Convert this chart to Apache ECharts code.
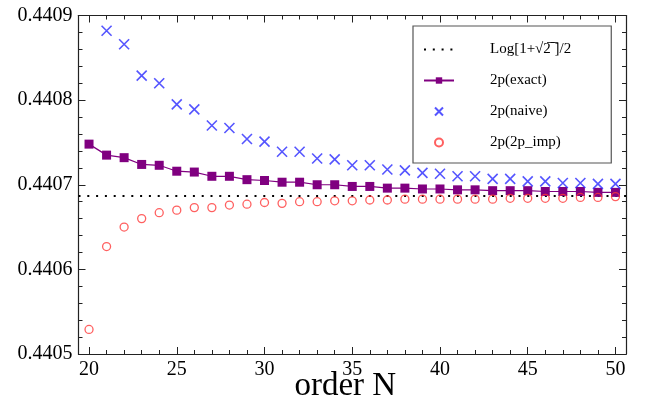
<!DOCTYPE html>
<html>
<head>
<meta charset="utf-8">
<script src="https://cdn.jsdelivr.net/npm/echarts@6/dist/echarts.min.js"></script>
<style>html,body{margin:0;padding:0;background:#fff;}#c{width:649px;height:407px;}</style>
</head>
<body>
<div id="c"></div>
<script>
// ---- data ----
const orders = [20,21,22,23,24,25,26,27,28,29,30,31,32,33,34,35,36,37,38,39,40,41,42,43,44,45,46,47,48,49,50];
const exactVals = [0.440748,0.440735,0.440732,0.440724,0.440723,0.440716,0.440715,0.440710,0.440710,0.440706,
  0.440705,0.440703,0.440703,0.440700,0.440700,0.440698,0.440698,0.440696,0.440696,0.440695,
  0.440695,0.440694,0.440694,0.440693,0.440693,0.440693,0.440692,0.440692,0.440692,0.440691,0.440691];
const naiveVals = [null,0.440882,0.440866,0.440829,0.440820,0.440795,0.440789,0.440770,0.440767,0.440754,
  0.440751,0.440739,0.440739,0.440731,0.440730,0.440723,0.440723,0.440718,0.440717,0.440714,
  0.440713,0.440710,0.440710,0.440707,0.440707,0.440704,0.440704,0.440702,0.440702,0.440701,0.440701];
const impVals = [0.440529,0.440627,0.440650,0.440660,0.440667,0.440670,0.440673,0.440673,0.440676,0.440677,
  0.440679,0.440678,0.440680,0.440680,0.440681,0.440681,0.440682,0.440682,0.440683,0.440683,
  0.440683,0.440683,0.440683,0.440683,0.440684,0.440684,0.440684,0.440684,0.440685,0.440685,0.440686];
const limitVal = Math.log(1 + Math.SQRT2) / 2;
const xRange = [19.4, 50.6];
const yRange = [0.4405, 0.4409];
const xMajorTicks = [20,25,30,35,40,45,50];
const xMinorTicks = [20,21,22,23,24,25,26,27,28,29,30,31,32,33,34,35,36,37,38,39,40,41,42,43,44,45,46,47,48,49,50];
const seriesNames = ['Log[1+\u221A2\u0305 \u0305]/2', '2p(exact)', '2p(naive)', '2p(2p_imp)'];
const xTitle = 'order N';

// ---- chart ----
const font = 'Liberation Serif';
const pair = (vals) => orders.map((n,i)=>[n, vals[i]]).filter(p=>p[1]!==null);
const axisCol = '#222';

function xAx(pos, ticks, len, labels) {
  return {
    type:'value', position:pos, min:xRange[0], max:xRange[1],
    axisLine:{show:true, lineStyle:{color:axisCol, width:1.2}},
    axisTick:{show:true, inside:true, length:len, customValues:ticks, lineStyle:{color:axisCol, width:1}},
    axisLabel:{show:labels, customValues:ticks, color:'#000', fontFamily:font, fontSize:20, margin:6},
    splitLine:{show:false}
  };
}
function yAx(pos, labels) {
  return {
    type:'value', position:pos, min:yRange[0], max:yRange[1], interval:0.0001,
    axisLine:{show:true, lineStyle:{color:axisCol, width:1.2}},
    axisTick:{show:true, inside:true, length:7, lineStyle:{color:axisCol}},
    minorTick:{show:true, splitNumber:5, length:4, lineStyle:{color:axisCol}},
    axisLabel:{show:labels, color:'#000', fontFamily:font, fontSize:20, margin:6, formatter:v=>v.toFixed(4)},
    splitLine:{show:false}
  };
}
const xMain = xAx('bottom', xMajorTicks, 7, true);
xMain.name = xTitle; xMain.nameLocation='middle'; xMain.nameGap=32; xMain.nameMoveOverlap=false;
xMain.nameTextStyle = {color:'#000', fontFamily:font, fontSize:33, padding:[0,14,0,0], verticalAlign:'middle'};

const chart = echarts.init(document.getElementById('c'), null, {renderer:'canvas'});
chart.setOption({
  animation:false,
  backgroundColor:'#fff',
  grid:{left:78.5, top:15.5, right:23, bottom:53, containLabel:false, outerBoundsMode:'none'},
  xAxis:[xMain, xAx('bottom', xMinorTicks, 4, false), xAx('top', xMajorTicks, 7, false), xAx('top', xMinorTicks, 4, false)],
  yAxis:[yAx('left', true), yAx('right', false)],
  legend:{
    orient:'vertical', left:413, top:26,
    padding:[16,40,13,10], itemGap:16, itemWidth:30, itemHeight:8,
    borderColor:'#555', borderWidth:1.2, backgroundColor:'#fff',
    textStyle:{color:'#000', fontFamily:font, fontSize:15, padding:[0,0,0,31]},
    data:[{name:seriesNames[0], itemStyle:{opacity:0}}, seriesNames[1], seriesNames[2], seriesNames[3]]
  },
  series:[
    {name:seriesNames[0], type:'line', data:[[xRange[0],limitVal],[xRange[1],limitVal]], symbol:'none',
     lineStyle:{color:'#000', width:2, type:[2,6.8]}, itemStyle:{color:'#000'}, silent:true, z:1},
    {name:seriesNames[1], type:'line', data:pair(exactVals), symbol:'rect', symbolSize:9, showAllSymbol:true,
     lineStyle:{color:'#800080', width:1.2}, itemStyle:{color:'#800080'}, z:3},
    {name:seriesNames[2], type:'scatter', data:pair(naiveVals), symbol:'path://M0,0L10,10M10,0L0,10', symbolSize:10,
     itemStyle:{color:'transparent', borderColor:'#2a2aff', borderWidth:1.6}, z:4},
    {name:seriesNames[3], type:'scatter', data:pair(impVals), symbol:'circle', symbolSize:8,
     itemStyle:{color:'transparent', borderColor:'#ff3838', borderWidth:1.3}, z:4}
  ]
});
</script>
</body>
</html>
